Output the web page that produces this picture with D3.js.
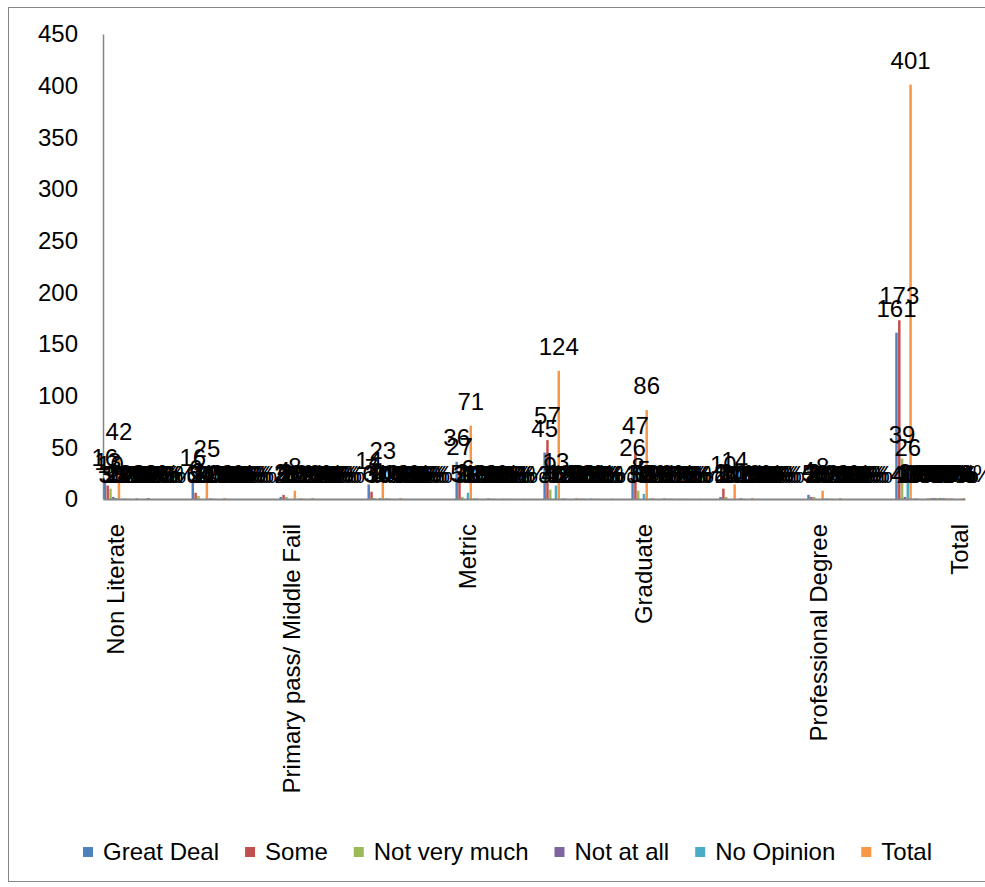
<!DOCTYPE html>
<html>
<head>
<meta charset="utf-8">
<script src="https://cdn.jsdelivr.net/npm/d3@7"></script>
<style>
  html, body { margin: 0; padding: 0; background: #fff; }
  svg { display: block; font-family: "Liberation Sans", Arial, sans-serif; }
</style>
</head>
<body>
<svg id="chart" width="985" height="887"></svg>
<script>
// Survey cross-tab by education level: each block is a count row followed by
// row %, column % and % of total rows, then an empty spacer row.
const categories = [
  "Non Literate", "", "", "", "", "", "", "", "", "",
  "Primary pass/ Middle Fail", "", "", "", "", "", "", "", "", "",
  "Metric", "", "", "", "", "", "", "", "", "",
  "Graduate", "", "", "", "", "", "", "", "", "",
  "Professional Degree", "", "", "", "", "", "", "", "Total"
];

// "n" = count, "p" = share shown as percent, "" = spacer row
const rowKinds = [
  "n","p","p","p","", "n","p","p","p","", "n","p","p","p","",
  "n","p","p","p","", "n","p","p","p","", "n","p","p","p","",
  "n","p","p","p","", "n","p","p","p","", "n","p","p","p","",
  "n","p","p","p"
];

const seriesNames = ["Great Deal", "Some", "Not very much", "Not at all", "No Opinion", "Total"];
const seriesColors = ["#4F81BD", "#C0504D", "#9BBB59", "#8064A2", "#4BACC6", "#F79646"];

const greatDeal = [
  16, 0.38, 0.10, 0.04, null,  16, 0.64, 0.10, 0.04, null,  2, 0.25, 0.01, 0.00, null,
  14, 0.61, 0.09, 0.03, null,  36, 0.51, 0.22, 0.09, null,  45, 0.36, 0.28, 0.11, null,
  26, 0.30, 0.16, 0.06, null,  2, 0.14, 0.01, 0.00, null,   4, 0.50, 0.02, 0.01, null,
  161, 0.40, 1.00, 0.40
];
const some = [
  13, 0.31, 0.08, 0.03, null,  6, 0.24, 0.03, 0.01, null,   4, 0.50, 0.02, 0.01, null,
  7, 0.30, 0.04, 0.02, null,   27, 0.38, 0.16, 0.07, null,  57, 0.46, 0.33, 0.14, null,
  47, 0.55, 0.27, 0.12, null,  10, 0.71, 0.06, 0.02, null,  2, 0.25, 0.01, 0.00, null,
  173, 0.43, 1.00, 0.43
];
const notVeryMuch = [
  10, 0.24, 0.26, 0.02, null,  3, 0.12, 0.08, 0.01, null,   2, 0.25, 0.05, 0.00, null,
  1, 0.04, 0.03, 0.00, null,   2, 0.03, 0.05, 0.00, null,   9, 0.07, 0.23, 0.02, null,
  8, 0.09, 0.21, 0.02, null,   2, 0.14, 0.05, 0.00, null,   2, 0.25, 0.05, 0.00, null,
  39, 0.10, 1.00, 0.10
];
const notAtAll = [
  2, 0.05, 1.00, 0.00, null,   0, 0.00, 0.00, 0.00, null,   0, 0.00, 0.00, 0.00, null,
  0, 0.00, 0.00, 0.00, null,   0, 0.00, 0.00, 0.00, null,   0, 0.00, 0.00, 0.00, null,
  0, 0.00, 0.00, 0.00, null,   0, 0.00, 0.00, 0.00, null,   0, 0.00, 0.00, 0.00, null,
  2, 0.00, 1.00, 0.00
];
const noOpinion = [
  1, 0.02, 0.04, 0.00, null,   0, 0.00, 0.00, 0.00, null,   0, 0.00, 0.00, 0.00, null,
  1, 0.04, 0.04, 0.00, null,   6, 0.08, 0.23, 0.01, null,   13, 0.10, 0.50, 0.03, null,
  5, 0.06, 0.19, 0.01, null,   0, 0.00, 0.00, 0.00, null,   0, 0.00, 0.00, 0.00, null,
  26, 0.06, 1.00, 0.06
];
const total = [
  42, 1.00, 0.10, 0.10, null,  25, 1.00, 0.06, 0.06, null,  8, 1.00, 0.02, 0.02, null,
  23, 1.00, 0.06, 0.06, null,  71, 1.00, 0.18, 0.18, null,  124, 1.00, 0.31, 0.31, null,
  86, 1.00, 0.21, 0.21, null,  14, 1.00, 0.03, 0.03, null,  8, 1.00, 0.02, 0.02, null,
  401, 1.00, 1.00, 1.00
];
const seriesValues = [greatDeal, some, notVeryMuch, notAtAll, noOpinion, total];

const yTicks = [0, 50, 100, 150, 200, 250, 300, 350, 400, 450];

const svg = d3.select("#chart");
const FONT = 24;
const axisColor = "#868686";

// outer chart frame
svg.append("rect")
  .attr("x", 8.5).attr("y", 7.5).attr("width", 990).attr("height", 874)
  .attr("fill", "none").attr("stroke", axisColor).attr("stroke-width", 1);

const x = d3.scaleBand().domain(d3.range(categories.length)).range([103, 965]);
const xs = d3.scaleBand().domain(seriesNames).range([0.6, x.bandwidth() - 0.4]).paddingInner(0.12);
const y = d3.scaleLinear().domain([0, 450]).range([499, 34]);

// bars
const bars = svg.append("g");
seriesNames.forEach((name, si) => {
  const pts = seriesValues[si]
    .map((v, i) => ({ i, v }))
    .filter(d => d.v !== null);
  bars.selectAll(null).data(pts).join("rect")
    .attr("x", d => x(d.i) + xs(name))
    .attr("y", d => y(d.v))
    .attr("width", xs.bandwidth())
    .attr("height", d => y(0) - y(d.v))
    .attr("fill", seriesColors[si]);
});

// y axis
const yAxis = svg.append("g")
  .attr("transform", "translate(103,0)")
  .call(d3.axisLeft(y).tickValues(yTicks).tickSize(0).tickSizeOuter(0).tickPadding(25));
yAxis.select(".domain").attr("stroke", axisColor).attr("stroke-width", 1.5);
yAxis.selectAll("text").attr("font-size", FONT).attr("font-family", "Liberation Sans, Arial, sans-serif").attr("fill", "#000");

// x axis
const xAxis = svg.append("g")
  .attr("transform", `translate(0,${y(0)})`)
  .call(d3.axisBottom(x).tickSize(0).tickSizeOuter(0).tickFormat(i => categories[i]));
xAxis.select(".domain").attr("stroke", axisColor).attr("stroke-width", 2);
xAxis.selectAll("text")
  .attr("font-size", FONT).attr("font-family", "Liberation Sans, Arial, sans-serif").attr("fill", "#000")
  .attr("transform", "rotate(-90)")
  .attr("text-anchor", "end")
  .attr("x", -25).attr("y", 0).attr("dy", "0.5em");

// data labels, drawn series by series on top of the bars
const labels = svg.append("g")
  .attr("font-size", FONT).attr("text-anchor", "middle").attr("fill", "#000");
seriesNames.forEach((name, si) => {
  const pts = seriesValues[si]
    .map((v, i) => ({ i, v }))
    .filter(d => d.v !== null);
  labels.selectAll(null).data(pts).join("text")
    .attr("x", d => x(d.i) + xs(name) + xs.bandwidth() / 2)
    .attr("y", d => y(d.v) - 16)
    .text(d => rowKinds[d.i] === "p" ? Math.round(d.v * 100) + "%" : d.v);
});

// legend
const legend = svg.append("g").attr("font-size", FONT);
let lx = 83;
seriesNames.forEach((name, si) => {
  const g = legend.append("g").attr("transform", `translate(${lx},852)`);
  g.append("rect").attr("x", 0).attr("y", -5).attr("width", 10).attr("height", 10).attr("fill", seriesColors[si]);
  const t = g.append("text").attr("x", 20).attr("y", 0).attr("dy", "0.35em").attr("fill", "#000").text(name);
  lx += 20 + t.node().getComputedTextLength() + 26;
});
</script>
</body>
</html>
